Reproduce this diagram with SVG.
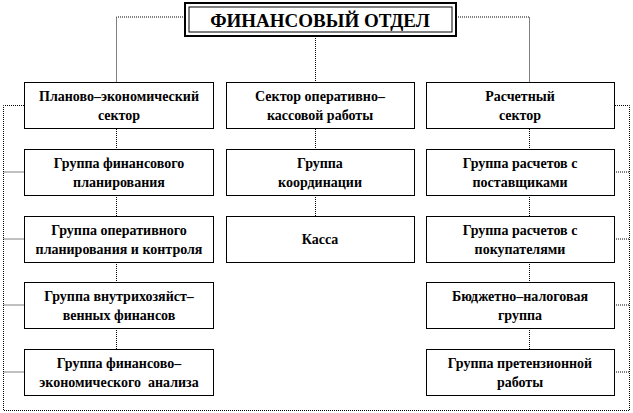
<svg xmlns="http://www.w3.org/2000/svg" width="633" height="413" viewBox="0 0 633 413">
<rect width="633" height="413" fill="#fff"/>
<g id="connectors" fill="none" stroke="#000" stroke-width="1" stroke-dasharray="1 1">
<polyline points="185,17 116.5,17 116.5,82"/>
<polyline points="456,17 529.5,17 529.5,82"/>
<line x1="315.5" y1="36" x2="315.5" y2="82"/>
<line x1="116.5" y1="129" x2="116.5" y2="149"/>
<line x1="116.5" y1="195" x2="116.5" y2="216"/>
<line x1="116.5" y1="262" x2="116.5" y2="282"/>
<line x1="116.5" y1="328" x2="116.5" y2="349"/>
<line x1="315.5" y1="129" x2="315.5" y2="149"/>
<line x1="315.5" y1="195" x2="315.5" y2="216"/>
<line x1="529.5" y1="129" x2="529.5" y2="149"/>
<line x1="529.5" y1="195" x2="529.5" y2="216"/>
<line x1="529.5" y1="262" x2="529.5" y2="282"/>
<line x1="529.5" y1="328" x2="529.5" y2="349"/>
<polyline points="24,105.5 3.5,105.5 3.5,410.5 629.5,410.5 629.5,105.5 614,105.5"/>
<line x1="3.5" y1="172" x2="24" y2="172"/>
<line x1="3.5" y1="239" x2="24" y2="239"/>
<line x1="3.5" y1="305" x2="24" y2="305"/>
<line x1="3.5" y1="372" x2="24" y2="372"/>
<line x1="614" y1="172" x2="629.5" y2="172"/>
<line x1="614" y1="239" x2="629.5" y2="239"/>
<line x1="614" y1="305" x2="629.5" y2="305"/>
<line x1="614" y1="372" x2="629.5" y2="372"/>
</g>
<g id="title">
<rect x="185" y="3" width="271" height="33" fill="#fff" stroke="#000" stroke-width="2"/>
<rect x="189" y="7" width="263" height="25" fill="none" stroke="#000" stroke-width="1"/>
<text x="320" y="27" font-family="Liberation Serif" font-weight="bold" font-size="19" text-anchor="middle">ФИНАНСОВЫЙ ОТДЕЛ</text>
</g>
<g id="nodes" font-family="Liberation Serif" font-weight="bold" font-size="14" text-anchor="middle" fill="#000">
<g id="n-plan">
<rect x="24.5" y="82.5" width="189" height="46" fill="#fff" stroke="#000"/>
<text x="119" y="101">Планово–экономический</text>
<text x="119" y="120">сектор</text>
</g>
<g id="n-fin-plan">
<rect x="24.5" y="149.5" width="189" height="46" fill="#fff" stroke="#000"/>
<text x="119" y="168">Группа финансового</text>
<text x="119" y="187">планирования</text>
</g>
<g id="n-oper-plan">
<rect x="24.5" y="216.5" width="189" height="46" fill="#fff" stroke="#000"/>
<text x="119" y="235">Группа оперативного</text>
<text x="119" y="254">планирования и контроля</text>
</g>
<g id="n-vnutr">
<rect x="24.5" y="282.5" width="189" height="46" fill="#fff" stroke="#000"/>
<text x="119" y="301">Группа внутрихозяйст–</text>
<text x="119" y="320">венных финансов</text>
</g>
<g id="n-analiz">
<rect x="24.5" y="349.5" width="189" height="46" fill="#fff" stroke="#000"/>
<text x="119" y="368">Группа финансово–</text>
<text x="119" y="387" xml:space="preserve">экономического  анализа</text>
</g>
<g id="n-kass-sector">
<rect x="226.5" y="82.5" width="188" height="46" fill="#fff" stroke="#000"/>
<text x="320" y="101">Сектор оперативно–</text>
<text x="320" y="120">кассовой работы</text>
</g>
<g id="n-koord">
<rect x="226.5" y="149.5" width="188" height="46" fill="#fff" stroke="#000"/>
<text x="320" y="168">Группа</text>
<text x="320" y="187">координации</text>
</g>
<g id="n-kassa">
<rect x="226.5" y="216.5" width="188" height="46" fill="#fff" stroke="#000"/>
<text x="320" y="244">Касса</text>
</g>
<g id="n-rasch">
<rect x="426.5" y="82.5" width="188" height="46" fill="#fff" stroke="#000"/>
<text x="520" y="101">Расчетный</text>
<text x="520" y="120">сектор</text>
</g>
<g id="n-postav">
<rect x="426.5" y="149.5" width="188" height="46" fill="#fff" stroke="#000"/>
<text x="520" y="168">Группа расчетов с</text>
<text x="520" y="187">поставщиками</text>
</g>
<g id="n-pokup">
<rect x="426.5" y="216.5" width="188" height="46" fill="#fff" stroke="#000"/>
<text x="520" y="235">Группа расчетов с</text>
<text x="520" y="254">покупателями</text>
</g>
<g id="n-budget">
<rect x="426.5" y="282.5" width="188" height="46" fill="#fff" stroke="#000"/>
<text x="520" y="301">Бюджетно–налоговая</text>
<text x="520" y="320">группа</text>
</g>
<g id="n-pretenz">
<rect x="426.5" y="349.5" width="188" height="46" fill="#fff" stroke="#000"/>
<text x="520" y="368">Группа претензионной</text>
<text x="520" y="387">работы</text>
</g>
</g>
</svg>
